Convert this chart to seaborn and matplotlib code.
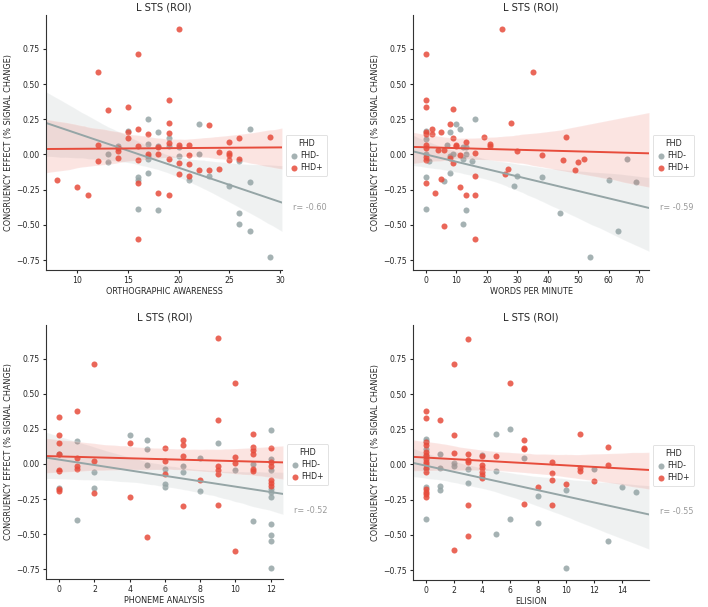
import numpy as np
import pandas as pd
import seaborn as sns
import matplotlib
matplotlib.use("Agg")
import matplotlib.pyplot as plt

# ---------------- data ----------------
groups = ["FHD-", "FHD+"]
title = "L STS (ROI)"
ylabel = "CONGRUENCY EFFECT (% SIGNAL CHANGE)"

# Panel 1: orthographic awareness
ortho_neg_x = [13, 13, 14, 15, 16, 16, 16, 17, 17, 17, 17, 17, 18, 18, 18, 19, 19, 20, 20, 21,
               22, 22, 23, 25, 26, 26, 26, 27, 27, 27, 29]
ortho_neg_y = [0.0, -0.05, 0.058, 0.167, -0.159, -0.18, -0.384, 0.252, 0.077, -0.01, -0.034, -0.133,
               0.16, 0.06, -0.393, 0.115, 0.06, 0.05, -0.01, -0.18, 0.214, 0.003, -0.155, -0.223,
               -0.048, -0.417, -0.49, 0.18, -0.193, -0.542, -0.731]
ortho_pos_x = [8, 10, 11, 12, 12, 12, 13, 14, 14, 14, 15, 15, 15, 16, 16, 16, 16, 16, 16, 17, 17,
               18, 18, 18, 19, 19, 19, 19, 19, 19, 20, 20, 20, 20, 21, 21, 21, 21, 22, 23, 23,
               24, 24, 25, 25, 25, 25, 26, 26, 29]
ortho_pos_y = [-0.178, -0.228, -0.285, 0.582, 0.067, -0.047, 0.318, 0.048, 0.025, -0.022,
               0.334, 0.160, 0.115, 0.712, 0.178, 0.058, -0.037, -0.20, -0.60, 0.143, 0.0,
               0.056, 0.0, -0.275, 0.384, 0.221, 0.155, 0.083, -0.034, -0.285,
               0.894, 0.067, -0.058, -0.138, 0.065, -0.006, -0.065, -0.155, -0.112,
               0.211, -0.112, 0.02, -0.10, 0.086, 0.013, -0.006, -0.039, 0.12, -0.03, 0.124]

# Panel 2: words per minute
wpm_neg_x = [0, 0, 0, 0, 0, 1, 6, 7, 8, 8, 8, 9, 10, 11, 12, 12, 12, 13, 13, 13, 15, 16,
             29, 30, 38, 44, 54, 60, 63, 66, 69]
wpm_neg_y = [0.167, 0.11, 0.0, -0.16, -0.384, -0.046, -0.187, 0.065, 0.159, -0.01, -0.134,
             0.005, 0.218, 0.18, 0.053, -0.03, -0.497, 0.053, 0.005, -0.394, -0.046, 0.254,
             -0.223, -0.155, -0.16, -0.417, -0.731, -0.18, -0.542, -0.03, -0.195]
wpm_pos_x = [0, 0, 0, 0, 0, 0, 0, 0, 0, 0, 2, 2, 3, 4, 5, 5, 6, 6, 8, 8, 9, 9, 9, 10, 10,
             11, 11, 13, 13, 16, 16, 16, 16, 19, 21, 21, 25, 26, 27, 28, 30, 35, 38, 45,
             46, 49, 50, 52]
wpm_pos_y = [0.712, 0.384, 0.337, 0.16, 0.145, 0.067, 0.045, -0.02, -0.04, -0.2,
             0.18, 0.145, -0.277, 0.03, 0.159, -0.175, 0.03, -0.506, 0.214, -0.025,
             0.32, 0.115, -0.06, 0.065, 0.058, -0.006, -0.229, 0.088, -0.287,
             0.01, -0.152, -0.287, -0.60, 0.124, 0.075, 0.06, 0.894, -0.138, -0.10,
             0.223, 0.024, 0.582, -0.006, -0.037, 0.124, -0.112, -0.056, -0.03]

# Panel 3: phoneme analysis
pa_neg_x = [0, 0, 1, 1, 2, 2, 4, 5, 5, 5, 6, 6, 6, 7, 7, 8, 8, 9, 10, 11, 11,
            12, 12, 12, 12, 12, 12, 12, 12, 12, 12]
pa_neg_y = [0.07, -0.171, 0.16, -0.397, -0.057, -0.171, 0.207, 0.174, 0.107, -0.005,
            -0.036, -0.143, -0.167, -0.017, -0.055, 0.043, -0.195, 0.152, -0.043, 0.0,
            -0.405, 0.245, 0.038, -0.04, -0.179, -0.2, -0.238, -0.428, -0.505, -0.552, -0.745]
pa_pos_x = [0, 0, 0, 0, 0, 0, 0, 0, 1, 1, 1, 1, 2, 2, 2, 4, 4, 5, 6, 6, 6, 7, 7, 7, 7, 8,
            9, 9, 9, 9, 9, 9, 10, 10, 10, 10, 11, 11, 11, 11, 11, 11, 12, 12, 12, 12, 12, 12]
pa_pos_y = [0.333, 0.207, 0.148, 0.071, -0.04, -0.052, -0.181, -0.19,
            0.38, 0.043, -0.012, -0.036, 0.71, 0.024, -0.21,
            0.148, -0.236, -0.519, 0.11, 0.021, -0.074, 0.174, 0.136, 0.06, -0.298, -0.112,
            0.895, 0.312, -0.012, -0.043, -0.071, -0.29, 0.578, 0.052, 0.005, -0.62,
            0.214, 0.124, 0.1, 0.071, -0.036, -0.048, 0.112, 0.015, -0.015, -0.114, -0.138, -0.16]

# Panel 4: elision
el_neg_x = [0, 0, 0, 0, 0, 0, 0, 1, 1, 1, 1, 2, 2, 3, 3, 4, 5, 5, 5, 6, 6, 7, 8, 8, 10, 10,
            12, 13, 14, 15]
el_neg_y = [0.184, 0.165, 0.113, 0.06, -0.03, -0.158, -0.387, 0.075, -0.028, -0.153, -0.182,
            0.007, -0.01, -0.033, -0.134, 0.066, 0.215, -0.047, -0.495, 0.25, -0.39, 0.047,
            -0.224, -0.417, -0.182, -0.733, -0.035, -0.542, -0.16, -0.198]
el_pos_x = [0] * 15 + [1, 2, 2, 2, 2, 3, 3, 3, 3, 3, 3, 4, 4, 4, 4, 4, 4,
                       5, 6, 7, 7, 7, 7, 8, 9, 9, 9, 9, 10, 11, 11, 11, 12, 13, 13]
el_pos_y = [0.382, 0.333, 0.156, 0.137, 0.09, 0.065, 0.04, 0.02, 0.0, -0.028, -0.05,
            -0.172, -0.193, -0.212, -0.231, 0.318, 0.71, 0.212, 0.085, -0.606,
            0.894, 0.071, 0.031, 0.019, -0.288, -0.505, 0.061, -0.005, -0.028, -0.052,
            -0.075, -0.099, 0.059, 0.58, 0.177, 0.118, 0.108, -0.281, -0.158, 0.019,
            -0.057, -0.111, -0.288, -0.139, 0.219, -0.028, -0.045, -0.116, 0.125, -0.005]

x_labels = ["ORTHOGRAPHIC AWARENESS", "WORDS PER MINUTE", "PHONEME ANALYSIS", "ELISION"]
r_labels = ["r= -0.60", "r= -0.59", "r= -0.52", "r= -0.55"]
x_ticks = [[10, 15, 20, 25, 30], [0, 10, 20, 30, 40, 50, 60, 70],
           [0, 2, 4, 6, 8, 10, 12], [0, 2, 4, 6, 8, 10, 12, 14]]
y_ticks = [-0.75, -0.50, -0.25, 0.00, 0.25, 0.50, 0.75]

panels = [
    (ortho_neg_x, ortho_neg_y, ortho_pos_x, ortho_pos_y),
    (wpm_neg_x, wpm_neg_y, wpm_pos_x, wpm_pos_y),
    (pa_neg_x, pa_neg_y, pa_pos_x, pa_pos_y),
    (el_neg_x, el_neg_y, el_pos_x, el_pos_y),
]

# ---------------- style / layout ----------------
sns.set_theme(style="ticks")
plt.rcParams['font.family'] = ['DejaVu Sans']

GRAY = "#95a5a6"
RED = "#e74c3c"
palette = {"FHD-": GRAY, "FHD+": RED}

W, H = 708, 607
fig = plt.figure(figsize=(W / 100, H / 100), dpi=100)

# axes boxes in pixels: left, top, right, bottom
boxes = [(46, 15, 282, 270), (413, 15, 649, 270), (46, 325, 283, 579), (413, 325, 649, 580)]
xlims = [(6.9, 30.2), (-4.3, 73.3), (-0.75, 12.7), (-0.93, 15.9)]
ylim = (-0.82, 0.99)

for i, (nx, ny, px, py) in enumerate(panels):
    l, t, r, b = boxes[i]
    ax = fig.add_axes([l / W, 1 - b / H, (r - l) / W, (b - t) / H])
    ax.set_xlim(*xlims[i])
    ax.set_ylim(*ylim)
    df = pd.DataFrame({
        "x": list(nx) + list(px),
        "y": list(ny) + list(py),
        "FHD": ["FHD-"] * len(nx) + ["FHD+"] * len(px),
    })
    for g in groups:
        sub = df[df["FHD"] == g]
        sns.regplot(data=sub, x="x", y="y", ax=ax, color=palette[g], truncate=False,
                    label=g, seed=0,
                    scatter_kws=dict(s=19, alpha=0.85, linewidths=0),
                    line_kws=dict(lw=1.4))
    ax.set_xlim(*xlims[i])
    ax.set_ylim(*ylim)
    ax.set_xticks(x_ticks[i])
    ax.set_yticks(y_ticks)
    ax.set_yticklabels([f"{v:.2f}".replace("-", "\u2212") for v in y_ticks])
    ax.tick_params(labelsize=5.6, length=2.5, width=0.8, pad=2)
    ax.set_xlabel(x_labels[i], fontsize=5.9, labelpad=1.5)
    ax.set_ylabel(ylabel, fontsize=5.9, labelpad=2)
    ax.set_title(title, fontsize=7.2, pad=3)
    sns.despine(ax=ax)
    for sp in ["left", "bottom"]:
        ax.spines[sp].set_linewidth(0.8)
        ax.spines[sp].set_color("#333333")
    leg = ax.legend(title="FHD", loc="center left", bbox_to_anchor=(1.0, 0.45),
                    fontsize=5.6, title_fontsize=5.9, frameon=True, framealpha=1,
                    edgecolor="#dddddd", handletextpad=0.2, borderpad=0.5,
                    labelspacing=0.4, handlelength=1.2, markerscale=1.0)
    leg.get_frame().set_linewidth(0.6)
    ax.text(1.045, 0.245 if i < 2 else 0.27, r_labels[i], transform=ax.transAxes,
            color="#999999", fontsize=5.9, va="center", ha="left")

fig.savefig("out.png", dpi=100)
